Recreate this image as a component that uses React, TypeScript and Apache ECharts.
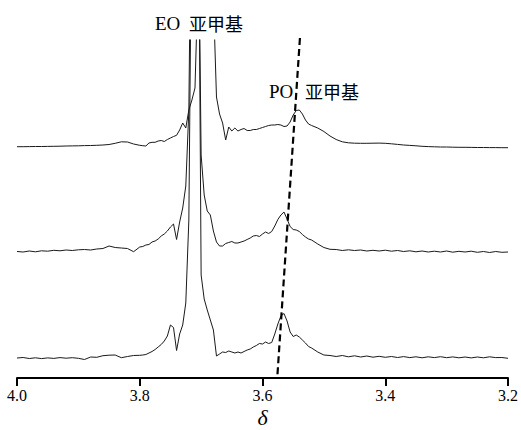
import { useEffect, useRef } from "react";
import * as echarts from "echarts";

// chemical shift grid (ppm)
const shifts = [
  4.0, 3.99, 3.98, 3.97, 3.96, 3.95, 3.94, 3.93, 3.92, 3.91, 3.9, 3.89, 3.88, 3.87, 3.86, 3.85, 3.84, 3.83, 3.82, 3.81, 3.8,
  3.795, 3.79, 3.785, 3.78, 3.775, 3.77, 3.765, 3.76, 3.755, 3.75, 3.745, 3.74, 3.735, 3.73, 3.725, 3.72, 3.715, 3.71, 3.705,
  3.7, 3.695, 3.69, 3.685, 3.68, 3.675, 3.67, 3.665, 3.66, 3.655, 3.65, 3.645, 3.64, 3.635, 3.63, 3.625, 3.62, 3.615, 3.61,
  3.605, 3.6, 3.595, 3.59, 3.585, 3.58, 3.575, 3.57, 3.565, 3.56, 3.555, 3.55, 3.545, 3.54, 3.535, 3.53, 3.525, 3.52,
  3.51, 3.5, 3.49, 3.48, 3.47, 3.46, 3.45, 3.44, 3.43, 3.42, 3.41, 3.4, 3.39, 3.38, 3.37, 3.36, 3.35, 3.34, 3.33, 3.32,
  3.31, 3.3, 3.29, 3.28, 3.27, 3.26, 3.25, 3.24, 3.23, 3.22, 3.21, 3.2,
];

// stacked spectra (intensity, arbitrary units incl. stacking offset)
const spectrumTop = [
  231.3, 231.3, 231.4, 231.5, 231.5, 231.6, 231.7, 231.8, 232, 232.1, 232.2, 232.4, 232.5, 232.7, 233, 233.5, 234.7, 236.2, 236, 234, 232.7,
  232.3, 232, 235, 235.7, 235.7, 237, 237.5, 236.5, 238.5, 240, 241.5, 242.7, 248, 255, 250, 268, 278, 290, 398,
  620, 700, 700, 620, 380, 281, 264, 255, 238, 251, 247, 250, 247, 248.5, 249.5, 247.5, 247.5, 248.5, 248.5,
  249.5, 250.5, 251.5, 252.5, 253, 253, 253.5, 253, 251.5, 252, 256, 263, 267.5, 268, 264, 258, 254, 252.5,
  250, 246.5, 242, 238.5, 236.2, 235.2, 234.8, 234.7, 234.7, 234.8, 234.9, 234.7, 234.2, 233.6, 233, 232.6, 232.2, 231.7, 231.4, 231.2,
  231, 231, 230.8, 230.7, 230.7, 230.6, 230.5, 230.5, 230.4, 230.4, 230.3, 230.3,
];
const spectrumMiddle = [
  126.5, 126, 127, 126.2, 127.2, 126.8, 127.7, 127.2, 128, 127.5, 128.2, 128.5, 128, 129, 129.5, 132, 130.5, 130, 129.5, 126.3, 131,
  131.5, 133, 133.5, 136, 137, 139, 142, 144, 147, 151, 154, 138.5, 156, 170, 192, 268, 560, 900, 500,
  223, 183, 167, 163, 147, 136, 132, 132, 134.5, 135.5, 136.5, 135, 135, 136, 137, 138.5, 140, 142, 142.5,
  141.5, 144, 146, 144.5, 146.5, 152, 158.5, 163, 166, 159, 151.5, 148.5, 148, 146.5, 143.5, 141, 139, 138,
  134, 130.5, 128.7, 128.5, 127.5, 128.2, 127.5, 128, 127, 127.7, 127, 127.8, 126.8, 127.5, 126.5, 127.2, 126.2, 127, 126, 126.8,
  126, 127, 125.8, 126.7, 126, 126.8, 125.7, 126.5, 125.5, 126.5, 125.7, 126,
];
const spectrumBottom = [
  20, 20.5, 19.5, 20.2, 19.4, 20.1, 19.6, 20.4, 19.8, 20.3, 19.7, 18.5, 21, 20.7, 22.3, 22.8, 23, 20.3, 21.5, 22.5, 22.7,
  23, 23.5, 25, 26.5, 28.5, 31, 33.5, 37, 42, 53, 50.5, 27.5, 44, 53, 75, 158, 500, 1000, 560,
  103, 79, 68, 58, 48, 22, 24, 26, 25.5, 27, 26, 25, 26, 25, 26.5, 28, 29, 31, 32.5,
  34.5, 34, 36, 34.5, 35.5, 44, 54, 62, 64.5, 57, 46, 41.5, 43, 41, 38, 35, 31.5, 30,
  26, 23, 22.5, 21.5, 22.5, 21.2, 22.2, 21, 22, 20.8, 21.7, 20.7, 21.5, 20.5, 21.4, 20.4, 21.2, 20.2, 21.2, 20.4,
  21.3, 20.3, 21.1, 20.2, 21, 20.1, 21, 20.2, 21.2, 20.4, 20.5, 19.7,
];

// guide line through the PO methylene peaks [shift, intensity]
const guideShift = [3.539, 3.576];
const guideIntensity = [340, 0];

const annotations = [
  { a: "EO", b: "亚甲基" },
  { a: "PO", b: "亚甲基" },
];

const SERIF = "Liberation Serif";
const CJK = "Noto Sans CJK SC";

function zip(xs: number[], ys: number[]) {
  return xs.map((x, i) => [x, ys[i]]);
}

export default function App() {
  const ref = useRef<HTMLDivElement>(null);
  useEffect(() => {
    document.body.style.margin = "0";
    if (!ref.current) return;
    const chart = echarts.init(ref.current, null, { renderer: "svg" });
    const line = (data: number[][]) => ({
      type: "line",
      data,
      showSymbol: false,
      symbol: "none",
      clip: true,
      lineStyle: { color: "#1a1a1a", width: 1 },
    });
    chart.setOption({
      animation: false,
      backgroundColor: "#ffffff",
      grid: { left: 17, right: 13, top: 40, bottom: 52, containLabel: false, outerBoundsMode: "none" },
      xAxis: {
        type: "value",
        inverse: true,
        min: 3.2,
        max: 4.0,
        interval: 0.2,
        name: "δ",
        nameLocation: "middle",
        nameGap: 39,
        nameMoveOverlap: false,
        nameTextStyle: {
          fontFamily: SERIF,
          fontStyle: "italic",
          fontSize: 22,
          color: "#000",
          verticalAlign: "middle",
        },
        axisLine: { show: true, lineStyle: { color: "#000", width: 2 } },
        axisTick: { show: true, length: 8, lineStyle: { color: "#000", width: 2 } },
        axisLabel: {
          margin: 9,
          fontFamily: SERIF,
          fontSize: 16,
          color: "#000",
          formatter: (v: number) => v.toFixed(1),
        },
        splitLine: { show: false },
      },
      yAxis: { type: "value", min: 0, max: 338, show: false },
      series: [
        line(zip(shifts, spectrumTop)),
        line(zip(shifts, spectrumMiddle)),
        line(zip(shifts, spectrumBottom)),
        {
          type: "line",
          data: zip(guideShift, guideIntensity),
          showSymbol: false,
          symbol: "none",
          clip: false,
          lineStyle: { color: "#000", width: 2.2, type: [7, 4] },
        },
      ],
      graphic: [
        { type: "text", left: 155, top: 14, style: { text: annotations[0].a, fontFamily: SERIF, fontSize: 19, fill: "#000" } },
        { type: "text", left: 189, top: 14, style: { text: annotations[0].b, fontFamily: CJK, fontSize: 18, fill: "#000" } },
        { type: "text", left: 269, top: 82, style: { text: annotations[1].a, fontFamily: SERIF, fontSize: 19, fill: "#000" } },
        { type: "text", left: 305, top: 82, style: { text: annotations[1].b, fontFamily: CJK, fontSize: 18, fill: "#000" } },
      ],
    });
    return () => chart.dispose();
  }, []);
  return <div ref={ref} style={{ width: 521, height: 430 }} />;
}
